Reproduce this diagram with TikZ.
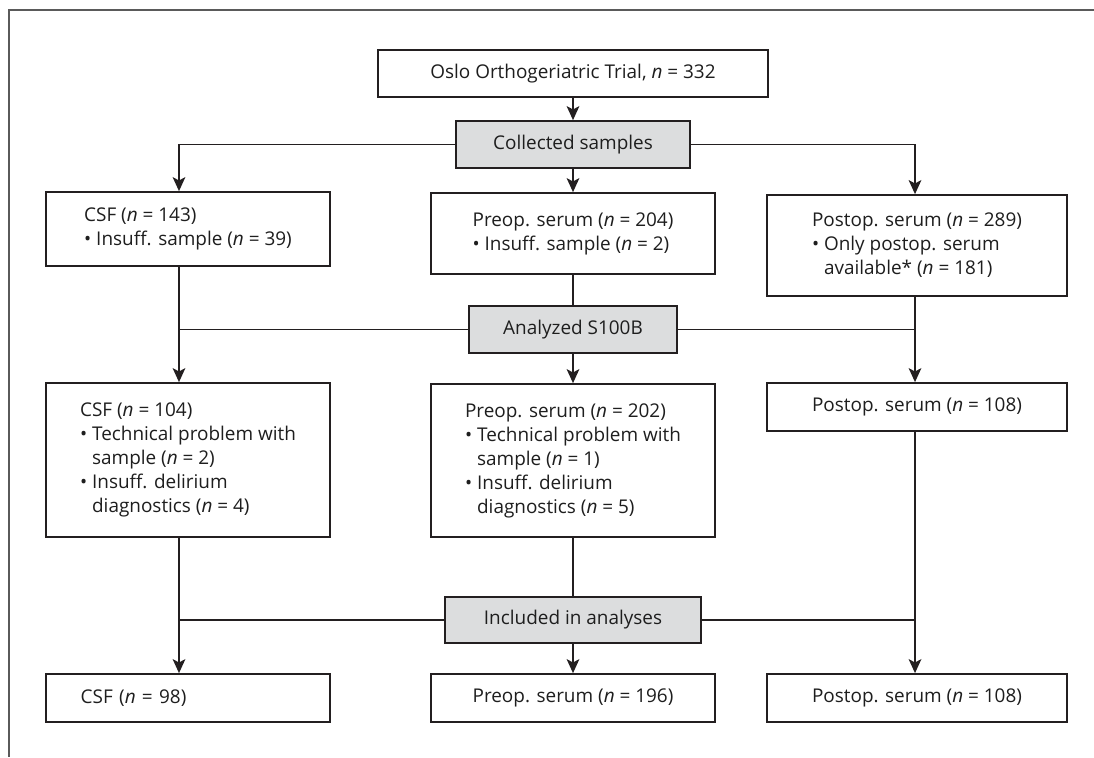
\documentclass[tikz,border=0pt]{standalone}
\usepackage{xcolor}
\usepackage{tikz}
\usepackage{fontspec}
\setmainfont{Open Sans}
\usetikzlibrary{arrows.meta}
\definecolor{linegray}{RGB}{35, 31, 32}
\definecolor{textgray}{RGB}{30, 30, 30}
\definecolor{boxgray}{RGB}{220, 221, 222}
\definecolor{framegray}{RGB}{90, 90, 90}
\newcommand{\nn}[1]{(\textit{n} = #1)}
\newcommand{\hang}{\phantom{\textbullet\ }}

\begin{document}
\begin{tikzpicture}[
        x=0.75pt, y=-0.75pt,
        font=\fontsize{14.2}{18}\selectfont, text=textgray,
        box/.style={draw=linegray, line width=1.3pt, fill=white, align=left, inner sep=0pt},
        grbox/.style={box, fill=boxgray},
        colw/.style={minimum width=213.4pt},
        rcolw/.style={minimum width=225pt},
        link/.style={draw=linegray, line width=1.3pt},
        arrow/.style={link, -{Stealth[length=10.5pt, width=9.5pt, inset=2.5pt]}},
        frame/.style={draw=framegray, line width=0.8pt}
    ]
        \useasboundingbox (0,0) rectangle (1094,757);
        \draw[frame] (1094,10) -- (9,10) -- (9,757);

        % column lines
        \coordinate (lcol) at (179,0);
        \coordinate (mcol) at (573,0);
        \coordinate (rcol) at (915,0);

        \node[box, minimum width=292.5pt, minimum height=35.25pt] (trial) at (573,73.5) {Oslo Orthogeriatric Trial, \textit{n} = 332};
        \node[grbox, minimum width=175.9pt, minimum height=35.25pt] (collected) at (573,144.5) {Collected samples};

        \node[box, colw, minimum height=55.5pt] (csf1) at (188,229) {CSF \nn{143}\\\textbullet\ Insuff. sample \nn{39}};
        \node[box, colw, minimum height=60.75pt] (pre1) at (573,233.5) {Preop. serum \nn{204}\\\textbullet\ Insuff. sample \nn{2}};
        \node[box, rcolw, minimum height=75.75pt] (post1) at (917,245.5) {Postop. serum \nn{289}\\\textbullet\ Only postop. serum\\\hang available* \nn{181}};

        \node[grbox, minimum width=156.4pt, minimum height=35.25pt] (analyzed) at (573,329.5) {Analyzed S100B};

        \node[box, colw, minimum height=115.5pt] (csf2) at (188,460) {CSF \nn{104}\\\textbullet\ Technical problem with\\\hang sample \nn{2}\\\textbullet\ Insuff. delirium\\\hang diagnostics \nn{4}};
        \node[box, colw, minimum height=114.75pt] (pre2) at (573,460.5) {Preop. serum \nn{202}\\\textbullet\ Technical problem with\\\hang sample \nn{1}\\\textbullet\ Insuff. delirium\\\hang diagnostics \nn{5}};
        \node[box, rcolw, minimum height=36pt] (post2) at (917,407) {Postop. serum \nn{108}};

        \node[grbox, minimum width=192.4pt, minimum height=34.5pt] (included) at (573,620) {Included in analyses};

        \node[box, text width=160.9pt, inner xsep=26.25pt, minimum height=36pt] (csf3) at (188,698) {CSF \nn{98}};
        \node[box, colw, minimum height=36pt] (pre3) at (573,698) {Preop. serum \nn{196}};
        \node[box, rcolw, minimum height=36pt] (post3) at (917,698) {Postop. serum \nn{108}};

        \draw[arrow] (trial) -- (collected);
        \draw[arrow] (collected.west) -| (csf1.north -| lcol);
        \draw[arrow] (collected) -- (pre1);
        \draw[arrow] (collected.east) -| (post1.north -| rcol);

        \draw[link] (csf1.south -| lcol) |- (analyzed.west);
        \draw[link] (pre1) -- (analyzed);
        \draw[link] (post1.south -| rcol) |- (analyzed.east);
        \draw[arrow] (analyzed.west -| lcol) -- (csf2.north -| lcol);
        \draw[arrow] (analyzed) -- (pre2);
        \draw[arrow] (analyzed.east -| rcol) -- (post2.north -| rcol);

        \draw[link] (csf2.south -| lcol) |- (included.west);
        \draw[link] (pre2) -- (included);
        \draw[link] (post2.south -| rcol) |- (included.east);
        \draw[arrow] (included.west -| lcol) -- (csf3.north -| lcol);
        \draw[arrow] (included) -- (pre3);
        \draw[arrow] (included.east -| rcol) -- (post3.north -| rcol);
    \end{tikzpicture}
\end{document}
